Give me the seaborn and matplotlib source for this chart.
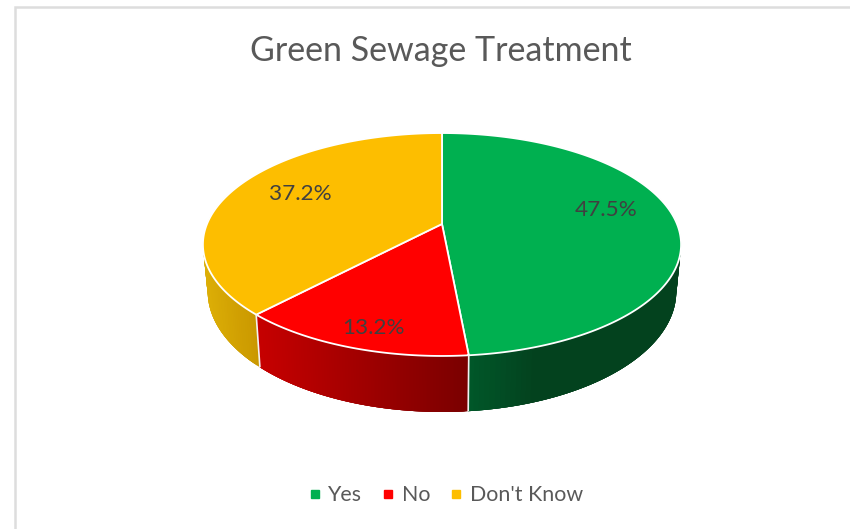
import numpy as np
import matplotlib
matplotlib.use("Agg")
import matplotlib.pyplot as plt
import seaborn as sns
from matplotlib.collections import PolyCollection
from matplotlib.colors import to_rgb
from matplotlib.lines import Line2D
from matplotlib.patches import Polygon

# data
categories = ["Yes", "No", "Don't Know"]
values = [47.5, 13.2, 37.2]
value_labels = ["47.5%", "13.2%", "37.2%"]
title = "Green Sewage Treatment"

# style
colors = ["#00B050", "#FF0000", "#FDBE00"]
wall_stops = [
    [(468, "#00582A"), (535, "#03421E"), (700, "#03421E")],
    [(258, "#C60000"), (468, "#7A0000")],
    [(205, "#DCAE06"), (258, "#C99700")],
]
label_pos = [(606, 210.5), (373, 327.5), (300, 194.5)]

sns.set_theme(style="white")
plt.rcParams["font.family"] = ["Lato", "DejaVu Sans"]

fig = plt.figure(figsize=(8.5, 5.29), dpi=100)
ax = fig.add_axes([0, 0, 1, 1])
ax.set_xlim(0, 850)
ax.set_ylim(529, 0)
ax.axis("off")

# chart frame
ax.plot([15, 15, 850], [529, 7, 7], color="#DDDDDD", lw=1.8, solid_joinstyle="miter")

# perspective projection of the disc
CX, CY, D, A, C = 442.0, 224.0, 235.0, 66.5, -0.1839


def top_edge(theta):
    x, z = np.sin(theta), -np.cos(theta)
    w = 1 + C * z
    return CX + D * x / w, (A * z + CY) / w


def base_edge(theta):
    x, y = top_edge(theta)
    return CX + (x - CX) * 0.98, y + 56 - (356 - y) * 0.08


def shade(stops, x):
    xs = [s[0] for s in stops]
    rgb = np.array([to_rgb(s[1]) for s in stops])
    return [np.interp(x, xs, rgb[:, i]) for i in range(3)]


bounds = np.concatenate([[0], np.cumsum(values)]) / np.sum(values) * 2 * np.pi

# side walls: overlapping strips, so no seams show between them
for i in range(len(values)):
    th = np.linspace(bounds[i], bounds[i + 1], 160)
    tx, ty = top_edge(th)
    bx, by = base_edge(th)
    quads, fc = [], []
    for j in range(len(th) - 1):
        if np.cos(th[j]) > 0.25:
            continue
        k = min(j + 4, len(th) - 1)
        top = list(zip(tx[j:k + 1], ty[j:k + 1]))
        base = list(zip(bx[j:k + 1], by[j:k + 1]))[::-1]
        quads.append(top + base)
        fc.append(shade(wall_stops[i], 0.5 * (tx[j] + tx[j + 1])))
    ax.add_collection(PolyCollection(quads, facecolors=fc, edgecolors="none", linewidths=0))

# white seams on the wall
for b in bounds[1:3]:
    tx, ty = top_edge(b)
    bx, by = base_edge(b)
    ax.plot([tx, bx], [ty, by], color="#F2F2F2", lw=1.2, solid_capstyle="butt")

# top face
for i in range(len(values)):
    th = np.linspace(bounds[i], bounds[i + 1], 200)
    ex, ey = top_edge(th)
    pts = np.column_stack([np.r_[CX, ex], np.r_[CY, ey]])
    ax.add_patch(Polygon(pts, closed=True, facecolor=colors[i], edgecolor="white", lw=1.3, joinstyle="round"))

# value labels
for (lx, ly), s in zip(label_pos, value_labels):
    ax.text(lx, ly, s, ha="center", va="center", fontsize=16.2, color="#404040")

ax.text(441, 51, title, ha="center", va="center", fontsize=24.5, color="#595959")

handles = [Line2D([], [], ls="", marker="s", ms=5.6, color=c) for c in colors]
ax.legend(handles, categories, loc="center", bbox_to_anchor=(442.5, 495), bbox_transform=ax.transData,
          ncol=3, frameon=False, fontsize=15.4, labelcolor="#595959", handletextpad=0.04,
          columnspacing=0.61, handlelength=1.2, borderpad=0, borderaxespad=0)

fig.savefig("out.png", dpi=100, facecolor="white")
